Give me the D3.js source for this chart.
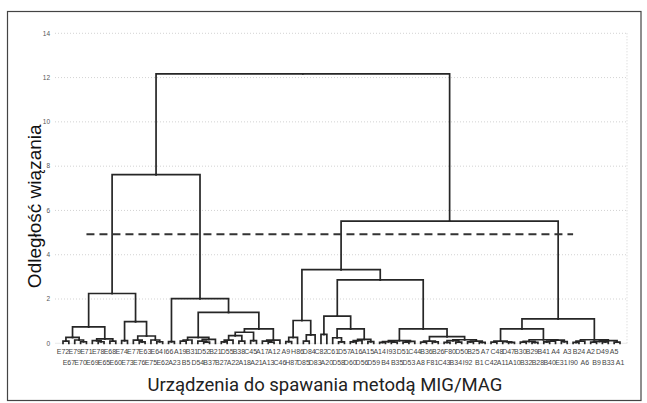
<!DOCTYPE html>
<html>
<head>
<meta charset="utf-8">
<script src="https://cdn.jsdelivr.net/npm/d3@7/dist/d3.min.js"></script>
<style>
  body { margin: 0; background: #fff; }
  svg { display: block; }
</style>
</head>
<body>
<div id="chart"></div>
<script>
// leaves, left to right (even ones on the upper label row, odd ones on the lower)
const leafLabels = [
  "E72","E67","E79","E70","E71","E69","E78","E65","E68","E60",
  "E74","E73","E77","E76","E63","E75","E64","E62","I66","A23",
  "A19","B5","B31","D54","D52","B37","B21","B27","D55","A22",
  "B38","A18","C45","A21","A17","A13","A12","C46","A9","H87",
  "H86","D85","D84","D83","C82","A20","C61","D58","D57","D60",
  "A16","D56","A15","D59","A14","B4","I93","B35","D51","D53",
  "C44","A8","B36","F81","B26","C43","F80","B34","D50","I92",
  "B25","B1","A7","C42","C48","A11","D47","A10","B30","B32",
  "B29","B28","B41","B40","A4","E31","A3","I90","B24","A6",
  "A2","B9","D49","B33","A5","A1"
];

// merges: [node, left, right, linkage distance]
const merges = [
  ["a1","E72","E67",0.10], ["a2","E70","E71",0.07], ["a3","E79","a2",0.15], ["a4","a1","a3",0.27],
  ["b1","E78","E65",0.07], ["b2","E69","b1",0.12], ["b3","E68","E60",0.10], ["b4","b2","b3",0.20],
  ["L1a","a4","b4",0.74],
  ["c1","E74","E73",0.12], ["c2","E76","E63",0.06], ["c3","E77","c2",0.14],
  ["c4","E64","E62",0.07], ["c5","E75","c4",0.15], ["c6","c3","c5",0.33],
  ["L1b","c1","c6",0.98],
  ["L1","L1a","L1b",2.25],
  ["d1","I66","A23",0.08],
  ["d2","A19","B5",0.10], ["d3","d2","B31",0.15],
  ["e1","D52","B37",0.05], ["e2","D54","e1",0.10], ["e3","e2","B21",0.18],
  ["f0","d3","e3",0.27],
  ["f1","B27","D55",0.06], ["f2","f1","A22",0.14], ["f3","B38","A18",0.10], ["f4","f2","f3",0.35],
  ["f5","C45","A21",0.12], ["f6","f4","f5",0.50],
  ["g1","A13","A12",0.05], ["g2","A17","g1",0.10], ["g3","g2","C46",0.14],
  ["g4","f6","g3",0.65],
  ["L2b","f0","g4",1.40],
  ["L2","d1","L2b",2.02],
  ["L","L1","L2",7.62],
  ["h1","A9","H87",0.08], ["h2","h1","H86",0.27], ["h3","D85","D84",0.10], ["h4","h3","D83",0.38],
  ["R1a","h2","h4",1.03],
  ["i1","C82","A20",0.40],
  ["i2","D58","D57",0.06], ["i3","C61","i2",0.25],
  ["i4","D60","A16",0.06], ["i5","i4","D56",0.12], ["i6","A15","D59",0.08], ["i7","i5","i6",0.18],
  ["i8","i3","i7",0.65],
  ["R1bL","i1","i8",1.23],
  ["j1","A14","B4",0.04], ["j2","I93","B35",0.05], ["j3","j1","j2",0.08],
  ["j4","D51","D53",0.05], ["j5","j4","C44",0.09], ["j6","j3","j5",0.12],
  ["k1","A8","B36",0.05], ["k2","F81","B26",0.06], ["k3","k1","k2",0.10],
  ["k4","C43","F80",0.04], ["k5","B34","D50",0.05], ["k6","k4","k5",0.12],
  ["k7","I92","B25",0.06], ["k8","B1","A7",0.04], ["k9","k7","k8",0.10],
  ["k10","k6","k9",0.16], ["k11","k3","k10",0.30],
  ["R1bR","j6","k11",0.65],
  ["R1b","R1bL","R1bR",2.86],
  ["R1","R1a","R1b",3.33],
  ["l1","C42","C48",0.05], ["l2","D47","A10",0.04], ["l3","A11","l2",0.07], ["l4","l1","l3",0.10],
  ["m1","B30","B32",0.05], ["m2","B29","B28",0.04], ["m3","m1","m2",0.09],
  ["m4","B41","B40",0.06], ["m5","m4","A4",0.10], ["m6","E31","A3",0.08], ["m7","m5","m6",0.14],
  ["m8","m3","m7",0.16],
  ["R2a","l4","m8",0.65],
  ["n1","I90","B24",0.04], ["n2","n1","A6",0.10],
  ["n3","A2","B9",0.05], ["n4","D49","B33",0.06], ["n5","n3","n4",0.09],
  ["n6","A5","A1",0.05], ["n7","n5","n6",0.12],
  ["R2b","n2","n7",0.16],
  ["R2","R2a","R2b",1.10],
  ["R","R1","R2",5.52],
  ["root","L","R",12.17]
];

const yTicks = [0, 2, 4, 6, 8, 10, 12, 14];
const cutHeight = 4.92;          // dashed cut line
const cutFrom = "E71", cutTo = "I90";

const yTitle = "Odległość wiązania";
const xTitle = "Urządzenia do spawania metodą MIG/MAG";

const W = 647, H = 403;
const plot = {left: 55, right: 627, top: 33.3, bottom: 343.3};

const svg = d3.select("#chart").append("svg")
    .attr("width", W)
    .attr("height", H);

svg.append("rect")
    .attr("width", W).attr("height", H)
    .attr("fill", "#fff");

// outer frame
svg.append("rect")
    .attr("x", 7.5).attr("y", 11.5)
    .attr("width", 633.5).attr("height", 389)
    .attr("fill", "none")
    .attr("stroke", "#444")
    .attr("stroke-width", 1.2);

const x = d3.scalePoint()
    .domain(leafLabels)
    .range([63, 620]);

const y = d3.scaleLinear()
    .domain([0, 14])
    .range([plot.bottom, plot.top]);

// grid
svg.append("g")
    .selectAll("line")
    .data(yTicks.filter(t => t > 0))
    .join("line")
    .attr("x1", plot.left).attr("x2", plot.right)
    .attr("y1", d => y(d)).attr("y2", d => y(d))
    .attr("stroke", "#c8c8c8")
    .attr("stroke-width", 0.8)
    .attr("stroke-dasharray", "1,2");

svg.append("line")
    .attr("x1", plot.right).attr("x2", plot.right)
    .attr("y1", plot.top).attr("y2", plot.bottom)
    .attr("stroke", "#c8c8c8")
    .attr("stroke-width", 0.8)
    .attr("stroke-dasharray", "1,2");

svg.append("line")
    .attr("x1", plot.left).attr("x2", plot.right)
    .attr("y1", plot.bottom).attr("y2", plot.bottom)
    .attr("stroke", "#e4e4e4")
    .attr("stroke-width", 0.8);

// y tick labels
svg.append("g")
    .selectAll("text")
    .data(yTicks)
    .join("text")
    .attr("x", 50)
    .attr("y", d => y(d))
    .attr("dy", "0.35em")
    .attr("text-anchor", "end")
    .attr("font-family", "Liberation Sans Narrow, Liberation Sans, Arial, sans-serif")
    .attr("font-size", 6.5)
    .attr("fill", "#555")
    .text(d => d);

// build tree from the merge list
const mergeMap = new Map(merges.map(m => [m[0], m]));
function build(name) {
    const m = mergeMap.get(name);
    if (!m) return {name: name, height: 0};
    return {name: name, height: m[3], children: [build(m[1]), build(m[2])]};
}
const root = d3.hierarchy(build("root"));
root.eachAfter(n => {
    n.px = n.children ? d3.mean(n.children, c => c.px) : x(n.data.name);
    n.py = y(n.data.height);
});

svg.append("g")
    .selectAll("path")
    .data(root.links())
    .join("path")
    .attr("d", l => "M" + l.target.px + "," + l.target.py +
                    "V" + l.source.py + "H" + l.source.px)
    .attr("fill", "none")
    .attr("stroke", "#262626")
    .attr("stroke-width", 1.7)
    .attr("stroke-linecap", "square");

// cut line
svg.append("line")
    .attr("x1", x(cutFrom)).attr("x2", x(cutTo))
    .attr("y1", y(cutHeight)).attr("y2", y(cutHeight))
    .attr("stroke", "#333")
    .attr("stroke-width", 2)
    .attr("stroke-dasharray", "8,5");

// leaf labels, alternating rows
svg.append("g")
    .selectAll("text")
    .data(leafLabels)
    .join("text")
    .attr("x", d => x(d))
    .attr("y", (d, i) => i % 2 ? 365 : 354)
    .attr("text-anchor", "middle")
    .attr("font-family", "Liberation Sans Narrow, Liberation Sans, Arial, sans-serif")
    .attr("font-size", 7)
    .attr("fill", "#444")
    .text(d => d);

// axis titles
svg.append("text")
    .attr("transform", "translate(41," + ((plot.top + plot.bottom) / 2 + 18) + ") rotate(-90)")
    .attr("text-anchor", "middle")
    .attr("font-family", "Liberation Sans, Arial, sans-serif")
    .attr("font-size", 19)
    .attr("fill", "#111")
    .text(yTitle);

svg.append("text")
    .attr("x", 325)
    .attr("y", 391)
    .attr("text-anchor", "middle")
    .attr("font-family", "Roboto, sans-serif")
    .attr("font-size", 18.5)
    .attr("fill", "#222")
    .text(xTitle);
</script>
</body>
</html>
